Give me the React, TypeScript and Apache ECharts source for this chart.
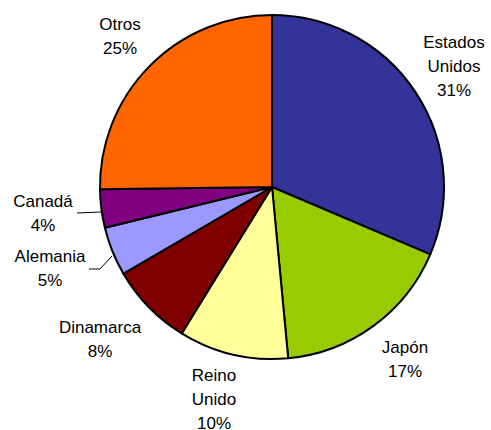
import React, { useEffect, useRef } from "react";
import * as echarts from "echarts";

const categories = ["Estados Unidos", "Japón", "Reino Unido", "Dinamarca", "Alemania", "Canadá", "Otros"];
const values = [31.4, 17.1, 10.3, 7.8, 4.6, 3.6, 25.2];
const colors = ["#333399", "#99CC00", "#FFFF99", "#800000", "#9999FF", "#800080", "#FF6600"];

// label centres (layout only)
const labelPos: Record<string, [number, number]> = {
  "Estados Unidos": [454, 66],
  "Japón": [405, 359],
  "Reino Unido": [214, 399],
  "Dinamarca": [100, 339],
  "Alemania": [50, 268],
  "Canadá": [43, 213],
  "Otros": [120, 36],
};
const linePts: Record<string, number[][]> = {
  "Alemania": [[112, 256], [100, 269], [89, 269]],
  "Canadá": [[101, 212], [77, 213]],
};

export default function App() {
  const ref = useRef<HTMLDivElement>(null);
  useEffect(() => {
    const chart = echarts.init(ref.current!, null, { renderer: "svg" });
    chart.setOption({
      animation: false,
      backgroundColor: "#ffffff",
      series: [
        {
          type: "pie",
          center: [272, 187],
          radius: 172,
          startAngle: 90,
          clockwise: true,
          data: categories.map((c, i) => ({
            name: c,
            value: values[i],
            itemStyle: { color: colors[i] },
            labelLine: { show: !!linePts[c] },
          })),
          itemStyle: { borderColor: "#000", borderWidth: 2 },
          label: {
            show: true,
            position: "outside",
            overflow: "none",
            width: 120,
            formatter: (p: any) => p.name.replace(" ", "\n") + "\n" + p.percent.toFixed(0) + "%",
            fontFamily: "Liberation Sans, Arial, sans-serif",
            fontSize: 17,
            lineHeight: 24,
            color: "#000",
            align: "center",
          },
          labelLine: { lineStyle: { color: "#000", width: 1 }, length: 10, length2: 10 },
          labelLayout: (params: any) => {
            const name = categories[params.dataIndex];
            const pos = labelPos[name];
            const out: any = {
              x: pos[0],
              y: pos[1],
              align: "center",
              verticalAlign: "middle",
            };
            if (linePts[name]) out.labelLinePoints = linePts[name];
            return out;
          },
        },
      ],
    });
    return () => chart.dispose();
  }, []);
  return (
    <div
      ref={ref}
      style={{ position: "absolute", left: 0, top: 0, width: 491, height: 430 }}
    />
  );
}
